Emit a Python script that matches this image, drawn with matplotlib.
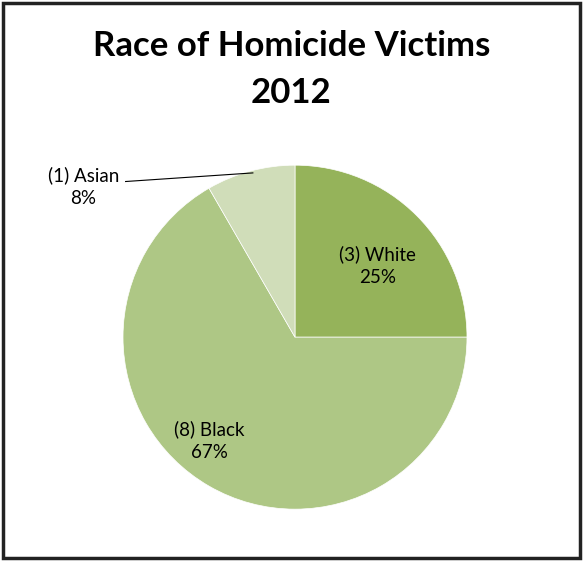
import matplotlib.pyplot as plt
from matplotlib.patches import Rectangle

# data
races = ["White", "Black", "Asian"]
counts = [3, 8, 1]
colors = ["#95B35A", "#AEC785", "#D0DDB9"]

plt.rcParams["font.family"] = ["Lato", "DejaVu Sans"]

fig = plt.figure(figsize=(5.83, 5.61), dpi=100)

# outer chart frame
fig.patches.append(Rectangle((0.006, 0.006), 0.988, 0.988, transform=fig.transFigure,
                             fill=False, edgecolor="#222222", linewidth=2.5))

fig.text(0.50, 0.918, "Race of Homicide Victims", ha="center", va="center",
         fontsize=25, fontweight="bold")
fig.text(0.50, 0.834, "2012", ha="center", va="center",
         fontsize=25, fontweight="bold")

ax = fig.add_axes([0.506 - 0.295, 0.399 - 0.3066, 0.590, 0.6132])
wedges, _ = ax.pie(counts, colors=colors, startangle=90, counterclock=False,
                   wedgeprops=dict(edgecolor="white", linewidth=0.5))
ax.set_xlim(-1, 1)
ax.set_ylim(-1, 1)
ax.set_aspect("equal")

total = sum(counts)
labels = [f"({c}) {r}\n{round(100 * c / total)}%" for r, c in zip(races, counts)]

ax.text(0.48, 0.415, labels[0], ha="center", va="center", fontsize=13.5, linespacing=1.4)
ax.text(-0.50, -0.60, labels[1], ha="center", va="center", fontsize=13.5, linespacing=1.4)
ax.text(-1.23, 0.875, labels[2], ha="center", va="center", fontsize=13.5, linespacing=1.4,
        clip_on=False)
ax.plot([-0.985, -0.245], [0.905, 0.955], color="black", linewidth=0.8, clip_on=False)

fig.savefig("out.png", dpi=100)
